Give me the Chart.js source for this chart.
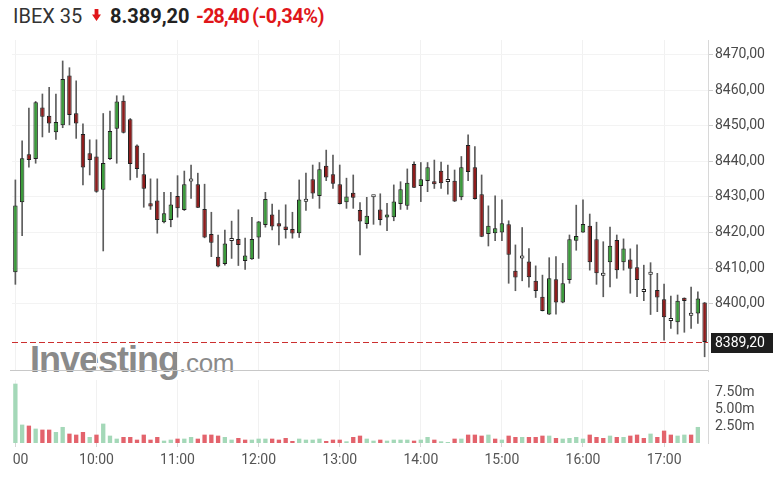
<!DOCTYPE html>
<html><head><meta charset="utf-8">
<script src="https://cdn.jsdelivr.net/npm/chart.js@4.4.1/dist/chart.umd.min.js"></script>
<style>
html,body{margin:0;padding:0;background:#fff;width:783px;height:480px;overflow:hidden;font-family:Roboto,Arial,sans-serif;}
.h{position:absolute;top:4px;font-size:20px;line-height:24px;white-space:nowrap;font-family:Roboto,Arial,sans-serif;}
#wm{position:absolute;left:30px;top:340px;line-height:40px;color:#8a8a8a;font-family:"Liberation Sans",Arial,sans-serif;white-space:nowrap;}
#c1{position:absolute;left:0;top:0;}
#c2{position:absolute;left:0;top:372px;}
</style></head>
<body>
<div id="wm"><span style="font-weight:bold;font-size:36px;letter-spacing:-1px">Investing</span><span style="font-size:26px;letter-spacing:-0.3px">.com</span></div>
<span class="h" id="hName" style="left:13px;color:#333">IBEX 35</span>
<svg style="position:absolute;left:92px;top:9px" width="9" height="12" viewBox="0 0 9 12"><path d="M2.6 0h3.8v5.5h2.6L4.5 12 0 5.5h2.6z" fill="#e0161a"/></svg>
<span class="h" id="hPrice" style="left:110px;color:#222;font-weight:bold"></span>
<span class="h" id="hChg" style="left:196px;color:#e0161a;font-weight:bold;letter-spacing:-1px"></span>
<span class="h" id="hPct" style="left:252px;color:#e0161a;font-weight:bold;letter-spacing:-0.5px"></span>
<canvas id="c1" width="783" height="372"></canvas>
<canvas id="c2" width="783" height="108"></canvas>
<script>
const times = ["09:00","09:05","09:10","09:15","09:20","09:25","09:30","09:35","09:40","09:45","09:50","09:55",
"10:00","10:05","10:10","10:15","10:20","10:25","10:30","10:35","10:40","10:45","10:50","10:55",
"11:00","11:05","11:10","11:15","11:20","11:25","11:30","11:35","11:40","11:45","11:50","11:55",
"12:00","12:05","12:10","12:15","12:20","12:25","12:30","12:35","12:40","12:45","12:50","12:55",
"13:00","13:05","13:10","13:15","13:20","13:25","13:30","13:35","13:40","13:45","13:50","13:55",
"14:00","14:05","14:10","14:15","14:20","14:25","14:30","14:35","14:40","14:45","14:50","14:55",
"15:00","15:05","15:10","15:15","15:20","15:25","15:30","15:35","15:40","15:45","15:50","15:55",
"16:00","16:05","16:10","16:15","16:20","16:25","16:30","16:35","16:40","16:45","16:50","16:55",
"17:00","17:05","17:10","17:15","17:20","17:25","17:30"];

const opens = [8408.8,8428.5,8442.0,8440.7,8455.2,8452.9,8448.2,8450.2,8464.2,8453.6,
8447.7,8442.3,8441.4,8432.0,8440.7,8449.2,8457.1,8451.9,8444.5,8436.4,
8428.2,8429.0,8422.9,8423.5,8430.3,8426.3,8434.35,8433.6,8426.6,8419.6,
8413.2,8411.1,8417.6,8418.2,8412.0,8412.5,8418.6,8422.1,8425.1,8422.6,
8421.7,8421.0,8419.8,8428.65,8435.0,8430.3,8438.8,8436.4,8433.6,8428.5,
8431.2,8426.3,8422.4,8429.9,8426.5,8424.2,8424.3,8428.0,8427.5,8439.3,
8433.1,8434.5,8434.3,8437.4,8434.25,8434.6,8429.9,8444.6,8438.4,8430.8,
8419.6,8419.8,8420.0,8422.3,8409.2,8412.65,8411.8,8406.4,8401.9,8396.9,
8406.8,8400.3,8406.6,8417.7,8420.0,8421.9,8418.1,8407.8,8411.6,8417.9,
8411.6,8412.4,8410.2,8403.25,8408.1,8403.8,8401.2,8395.1,8394.7,8401.6,
8396.55,8397.2,8400.3];
const highs = [8434.8,8445.8,8455.0,8456.9,8459.0,8460.9,8459.0,8468.3,8466.4,8462.7,
8450.6,8446.1,8446.1,8453.5,8454.2,8458.5,8458.5,8452.1,8444.7,8442.3,
8435.1,8435.1,8431.3,8431.3,8436.0,8437.3,8439.0,8436.7,8433.6,8425.7,
8419.3,8420.7,8423.2,8426.4,8418.4,8424.3,8423.1,8431.3,8428.0,8426.3,
8427.8,8425.7,8434.8,8436.7,8439.0,8439.7,8443.2,8441.8,8439.0,8435.3,
8436.2,8428.4,8429.9,8430.4,8430.9,8428.2,8433.4,8434.3,8437.9,8439.9,
8439.7,8439.7,8440.4,8439.8,8439.0,8437.6,8441.4,8447.5,8444.2,8436.2,
8427.5,8430.3,8429.2,8423.3,8416.5,8421.4,8415.5,8410.6,8408.0,8412.9,
8413.2,8411.3,8419.3,8427.7,8429.2,8425.2,8422.9,8417.4,8421.5,8419.3,
8418.2,8415.4,8416.5,8410.8,8411.5,8408.5,8405.5,8402.1,8402.4,8401.6,
8404.6,8403.3,8400.3];
const lows = [8405.4,8419.1,8438.4,8439.5,8446.9,8448.2,8446.2,8449.5,8450.3,8446.5,
8433.4,8436.2,8431.3,8414.8,8440.5,8439.5,8448.0,8434.8,8435.5,8427.1,
8426.5,8419.8,8422.7,8421.6,8424.3,8426.2,8429.6,8427.0,8418.5,8413.2,
8410.3,8410.8,8412.7,8410.7,8409.6,8412.4,8412.7,8421.5,8420.7,8416.5,
8418.4,8418.4,8418.6,8426.2,8429.6,8426.8,8434.6,8432.4,8428.0,8426.8,
8426.8,8413.7,8421.2,8422.3,8422.1,8420.5,8423.3,8426.5,8426.5,8432.6,
8428.7,8431.5,8432.4,8432.4,8430.8,8428.7,8429.2,8434.6,8429.4,8418.8,
8416.2,8417.7,8417.7,8405.7,8403.6,8406.4,8404.6,8401.7,8397.9,8396.9,
8397.0,8400.2,8405.7,8415.0,8420.0,8409.4,8405.4,8401.9,8404.7,8407.1,
8409.4,8402.9,8401.9,8400.8,8396.9,8397.7,8389.7,8393.0,8391.4,8391.9,
8393.0,8394.4,8385.0];
const closes = [8427.6,8440.9,8440.4,8456.7,8452.6,8450.7,8451.1,8463.2,8453.1,8450.7,
8438.3,8440.4,8431.5,8439.6,8448.6,8456.9,8448.1,8439.3,8437.9,8432.3,
8427.3,8423.5,8425.4,8427.9,8426.8,8433.6,8434.35,8427.0,8418.6,8417.1,
8410.4,8416.9,8417.6,8416.5,8413.5,8418.2,8423.1,8429.4,8421.7,8421.7,
8420.7,8419.7,8429.3,8428.65,8431.0,8437.8,8435.5,8433.7,8428.0,8430.1,
8429.8,8423.1,8424.7,8429.9,8423.5,8425.1,8428.7,8432.2,8434.0,8432.6,
8435.0,8438.4,8433.6,8433.9,8434.25,8428.7,8438.4,8437.0,8429.4,8418.8,
8421.9,8421.2,8422.6,8413.7,8407.3,8412.65,8407.4,8403.5,8397.9,8407.1,
8400.3,8405.7,8418.1,8419.0,8422.4,8411.6,8408.5,8407.8,8416.3,8409.4,
8415.5,8409.8,8406.6,8403.25,8408.1,8401.7,8396.1,8395.1,8400.8,8400.7,
8396.55,8401.4,8389.2];

// volume in millions; last bar not shown
const volumes = [8.88,2.75,2.6,2.15,2.0,2.0,1.65,2.4,1.4,1.25,
1.65,0.9,1.25,2.9,1.1,0.65,0.9,0.9,0.5,1.25,
0.5,0.9,0.35,0.5,0.65,0.65,0.9,0.65,1.25,1.25,
1.1,0.9,0.5,0.75,0.5,0.5,0.65,0.65,0.65,0.5,
0.75,0.3,0.65,0.5,0.5,0.65,0.3,0.5,0.5,0.25,
0.9,1.1,0.65,0.35,0.5,0.35,0.5,0.5,0.5,0.35,
0.5,0.9,0.5,0.25,0.15,0.65,0.65,1.25,1.25,1.1,
1.25,0.65,0.5,1.1,0.9,0.9,0.9,0.9,1.1,1.1,
0.75,0.65,0.75,0.9,0.65,1.25,0.9,0.75,1.1,0.9,
0.9,1.1,1.25,0.75,1.4,0.9,1.85,1.25,1.1,1.25,
1.25,2.4,null];
const volumeDir = ["u","u","d","u","d","d","u","u","d","d",
"d","u","d","u","u","u","d","d","d","d",
"d","d","u","u","d","u","u","d","d","d",
"d","u","u","d","d","u","u","u","d","d",
"d","d","u","u","u","u","d","d","d","u",
"d","d","u","u","d","u","u","u","u","d",
"u","u","d","u","u","d","u","d","d","d",
"u","d","u","d","d","u","d","d","d","u",
"d","u","u","u","u","d","d","d","u","d",
"u","d","d","d","u","d","d","d","u","u",
"d","u","d"];

const hourTicks = ["09:00","10:00","11:00","12:00","13:00","14:00","15:00","16:00","17:00"];
const xTickLabels = ["00","10:00","11:00","12:00","13:00","14:00","15:00","16:00","17:00"];
const priceTicks = [8400,8410,8420,8430,8440,8450,8460,8470];
const volumeTicks = [2.5,5,7.5];
const priceMin = 8381.0, priceMax = 8474.2;
const volumeMax = 9.43;
const prevClose = 8417.60;
const lastPrice = closes[closes.length-1];

function fmtES(v, thousands){
  let s = Math.abs(v).toFixed(2).split('.');
  let ip = s[0];
  if (thousands) ip = ip.replace(/\B(?=(\d{3})+(?!\d))/g,'.');
  return (v<0?'-':'') + ip + ',' + s[1];
}
document.getElementById('hPrice').textContent = fmtES(lastPrice, true);
const chg = lastPrice - prevClose;
document.getElementById('hChg').textContent = fmtES(chg,false);
document.getElementById('hPct').textContent = '(' + fmtES(chg/prevClose*100,false) + '%)';

const GREEN = '#3b9b3b', RED = '#8e1c1c', WHITE = '#ffffff';
const bodyColors = opens.map((o,i)=> closes[i]>o ? GREEN : (closes[i]<o ? RED : WHITE));
const FONT = {family:'Roboto', size:14};
const TICKCOL = '#4a4a4a';

function hourFilter(scale){
  scale.ticks = scale.ticks.filter(t => hourTicks.includes(times[t.value]));
}
function hourLabel(value){
  const j = hourTicks.indexOf(times[value]);
  if (j < 0) return '';
  return j === 0 ? '   ' + xTickLabels[0] : xTickLabels[j];
}
function fixYWidth(s){
  s.width = 75;
  s.paddingTop = 0;
  s.paddingBottom = 0;
}

const pricePlugin = {
  id:'pricePlugin',
  afterDraw(chart){
    const {ctx, chartArea:a, scales:{y}} = chart;
    const py = Math.round(y.getPixelForValue(lastPrice)) + 0.5;
    ctx.save();
    ctx.strokeStyle = '#cc2f2f';
    ctx.lineWidth = 1;
    ctx.setLineDash([6,3]);
    ctx.beginPath(); ctx.moveTo(a.left, py); ctx.lineTo(a.right, py); ctx.stroke();
    ctx.setLineDash([]);
    ctx.strokeStyle = '#c8c8c8';
    ctx.beginPath(); ctx.moveTo(a.left-2, a.bottom-0.5); ctx.lineTo(a.right, a.bottom-0.5); ctx.stroke();
    ctx.fillStyle = '#1e1e1e';
    ctx.fillRect(a.right+3, py-9.5, 62, 20);
    ctx.fillStyle = '#ffffff';
    ctx.font = '14px Roboto';
    ctx.textBaseline = 'middle';
    ctx.textAlign = 'left';
    ctx.fillText(fmtES(lastPrice,false), a.right+7, py+1);
    ctx.restore();
  }
};

new Chart(document.getElementById('c1'), {
  type:'bar',
  data:{
    labels: times,
    datasets:[
      {data: lows.map((l,i)=>[l, highs[i]]), backgroundColor:'#5c5c5c', barThickness:1, grouped:false, order:2},
      {data: opens.map((o,i)=>[o, closes[i]]), backgroundColor: bodyColors, borderColor:'#1f1f1f', borderWidth:1,
       borderSkipped:false, barPercentage:0.66, categoryPercentage:1, grouped:false, order:1, minBarLength:3}
    ]
  },
  options:{
    responsive:false, animation:false, devicePixelRatio:1,
    layout:{padding:{left:12, top:40, right:0, bottom:1}},
    plugins:{legend:{display:false}, tooltip:{enabled:false}},
    scales:{
      x:{
        offset:true,
        afterBuildTicks: hourFilter,
        afterFit: s => { s.height = 0; s.paddingLeft = 0; s.paddingRight = 0; },
        ticks:{display:false, autoSkip:false},
        grid:{color:'#f1f1f1', offset:false, drawTicks:false},
        border:{display:false}
      },
      y:{
        position:'right', min:priceMin, max:priceMax,
        afterBuildTicks: s => { s.ticks = priceTicks.map(v=>({value:v})); },
        afterFit: fixYWidth,
        grid:{color:'#f3f3f3', tickColor:'#cfcfcf', tickLength:5},
        border:{color:'#d8d8d8'},
        ticks:{padding:2, color:TICKCOL, font:FONT, callback: v => fmtES(v,false)}
      }
    }
  },
  plugins:[pricePlugin]
});

new Chart(document.getElementById('c2'), {
  type:'bar',
  data:{
    labels: times,
    datasets:[
      {data: volumes, backgroundColor: volumeDir.map(d => d==='u' ? '#a4d8b8' : '#e3636c'),
       barPercentage:0.64, categoryPercentage:1}
    ]
  },
  options:{
    responsive:false, animation:false, devicePixelRatio:1,
    layout:{padding:{left:12, top:8, right:0, bottom:0}},
    plugins:{legend:{display:false}, tooltip:{enabled:false}},
    scales:{
      x:{
        offset:true,
        afterBuildTicks: hourFilter,
        afterFit: s => { s.height = 37; s.paddingLeft = 0; s.paddingRight = 0; },
        ticks:{autoSkip:false, maxRotation:0, color:'#555', font:FONT, padding:5, callback: v => hourLabel(v)},
        grid:{color:'#f1f1f1', offset:false, tickLength:4, tickColor:'#d4d4d4'},
        border:{display:false}
      },
      y:{
        position:'right', min:0, max:volumeMax,
        afterBuildTicks: s => { s.ticks = volumeTicks.map(v=>({value:v})); },
        afterFit: fixYWidth,
        grid:{drawOnChartArea:false, tickLength:5, tickColor:'rgba(0,0,0,0)'},
        border:{color:'#d8d8d8'},
        ticks:{padding:2, color:TICKCOL, font:FONT, callback: v => v.toFixed(2) + 'm'}
      }
    }
  }
});
</script>
</body></html>
